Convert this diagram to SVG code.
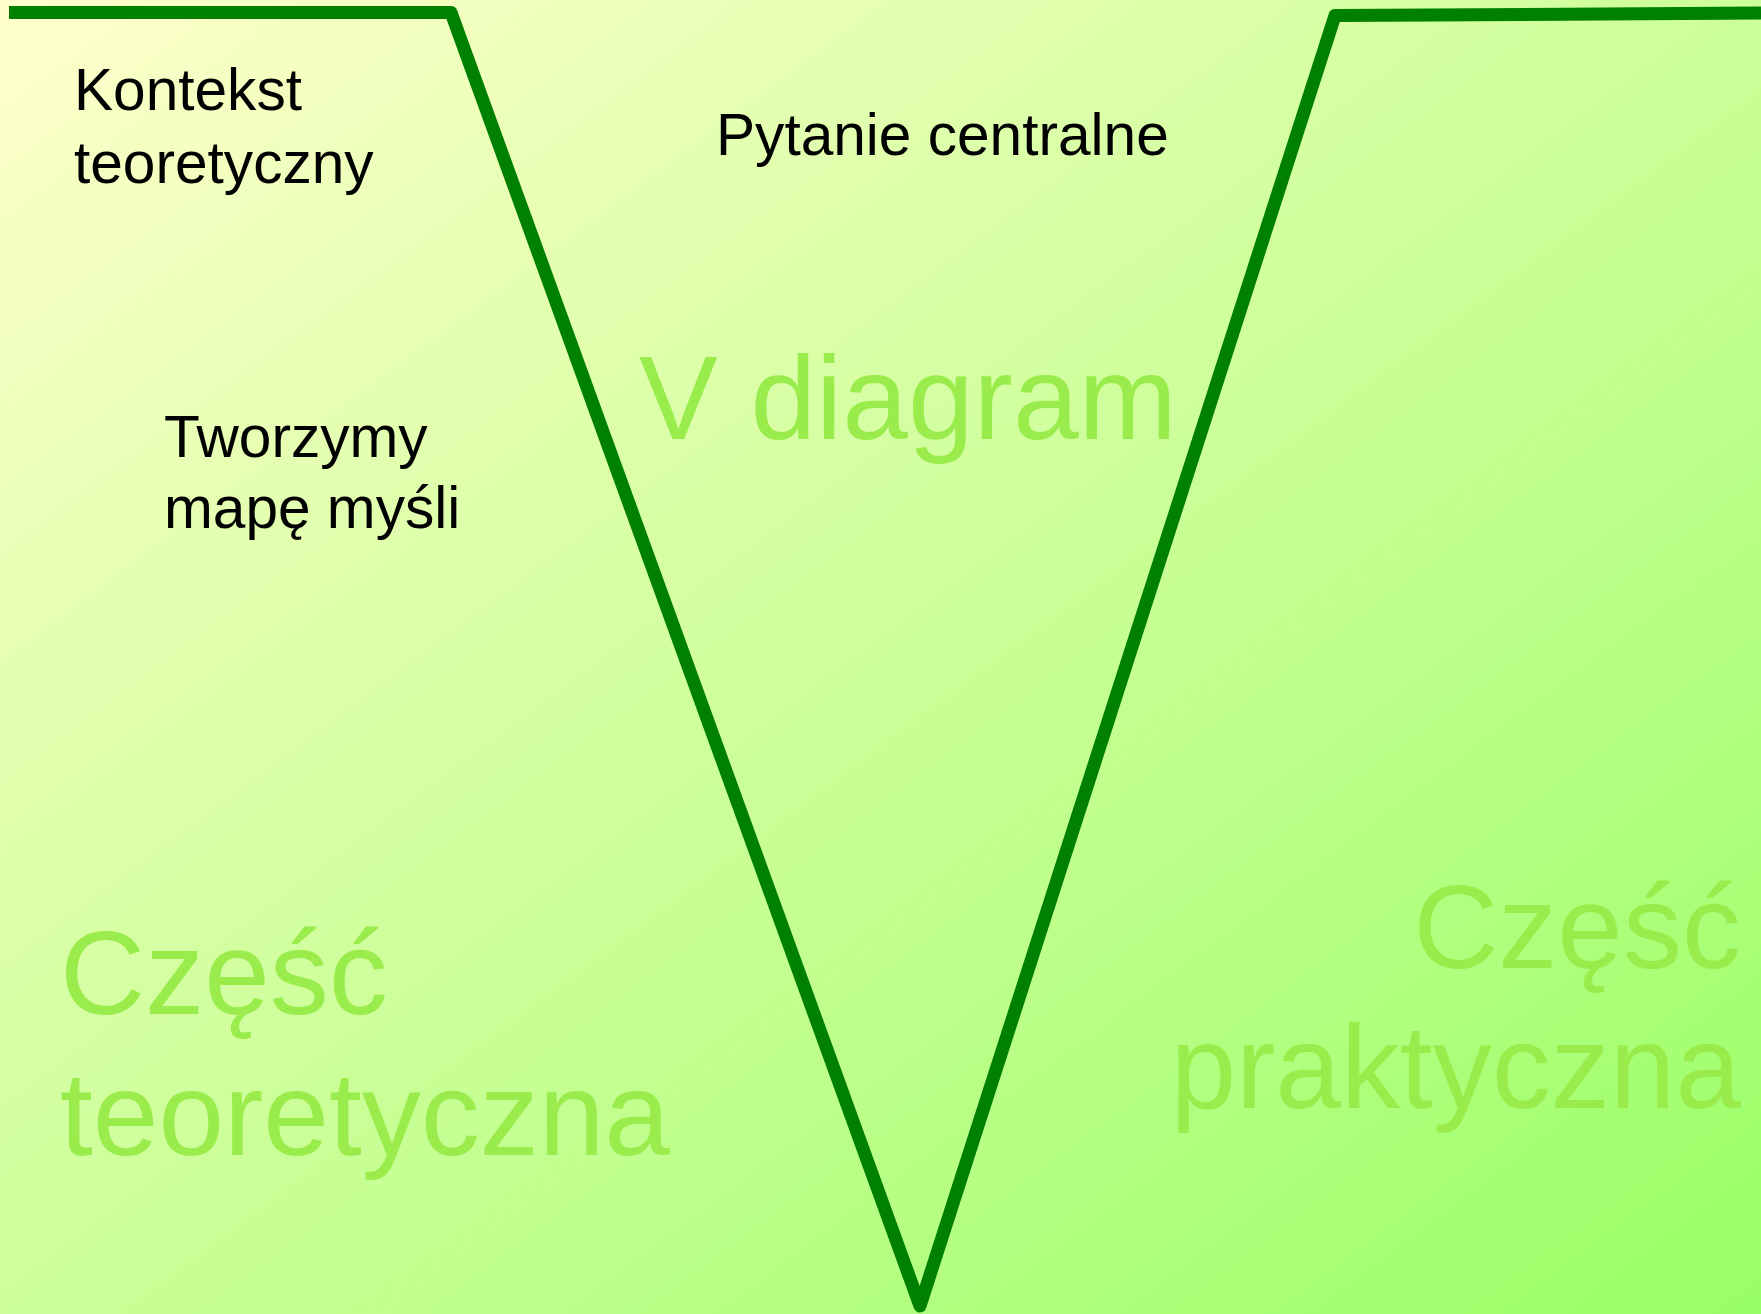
<svg xmlns="http://www.w3.org/2000/svg" width="1761" height="1314" viewBox="0 0 1761 1314">
  <defs>
    <linearGradient id="bg" x1="0" y1="0" x2="1" y2="1">
      <stop offset="0" stop-color="#FFFFCC"/>
      <stop offset="1" stop-color="#99FF66"/>
    </linearGradient>
  </defs>
  <style>
    .lbl { font-family: "Liberation Sans", Arial, sans-serif; font-size: 58.6px; fill: #000000; }
    .big { font-family: "Liberation Sans", Arial, sans-serif; font-size: 118px; fill: #9AEC4C; }
    .vline { fill: none; stroke: #008000; stroke-width: 13; stroke-linejoin: round; stroke-linecap: butt; }
  </style>
  <rect x="0" y="0" width="1761" height="1314" fill="url(#bg)"/>

  <g id="connectors">
    <polyline class="vline" points="9,12.5 451,12.5 920,1306 1335,15.5 1761,13"/>
  </g>

  <g id="title">
    <text class="big" x="639" y="439" font-size="117">V diagram</text>
  </g>

  <g id="kontekst">
    <text class="lbl" x="74" y="110">Kontekst</text>
    <text class="lbl" x="74" y="183">teoretyczny</text>
  </g>

  <g id="pytanie">
    <text class="lbl" x="716" y="155">Pytanie centralne</text>
  </g>

  <g id="mapa">
    <text class="lbl" x="164" y="457">Tworzymy</text>
    <text class="lbl" x="164" y="528">mapę myśli</text>
  </g>

  <g id="czesc-teoretyczna">
    <text class="big" x="60" y="1014">Część</text>
    <text class="big" x="60" y="1155">teoretyczna</text>
  </g>

  <g id="czesc-praktyczna">
    <text class="big" x="1741" y="968" font-size="119.5" text-anchor="end">Część</text>
    <text class="big" x="1741" y="1108" font-size="119.5" text-anchor="end">praktyczna</text>
  </g>
</svg>
